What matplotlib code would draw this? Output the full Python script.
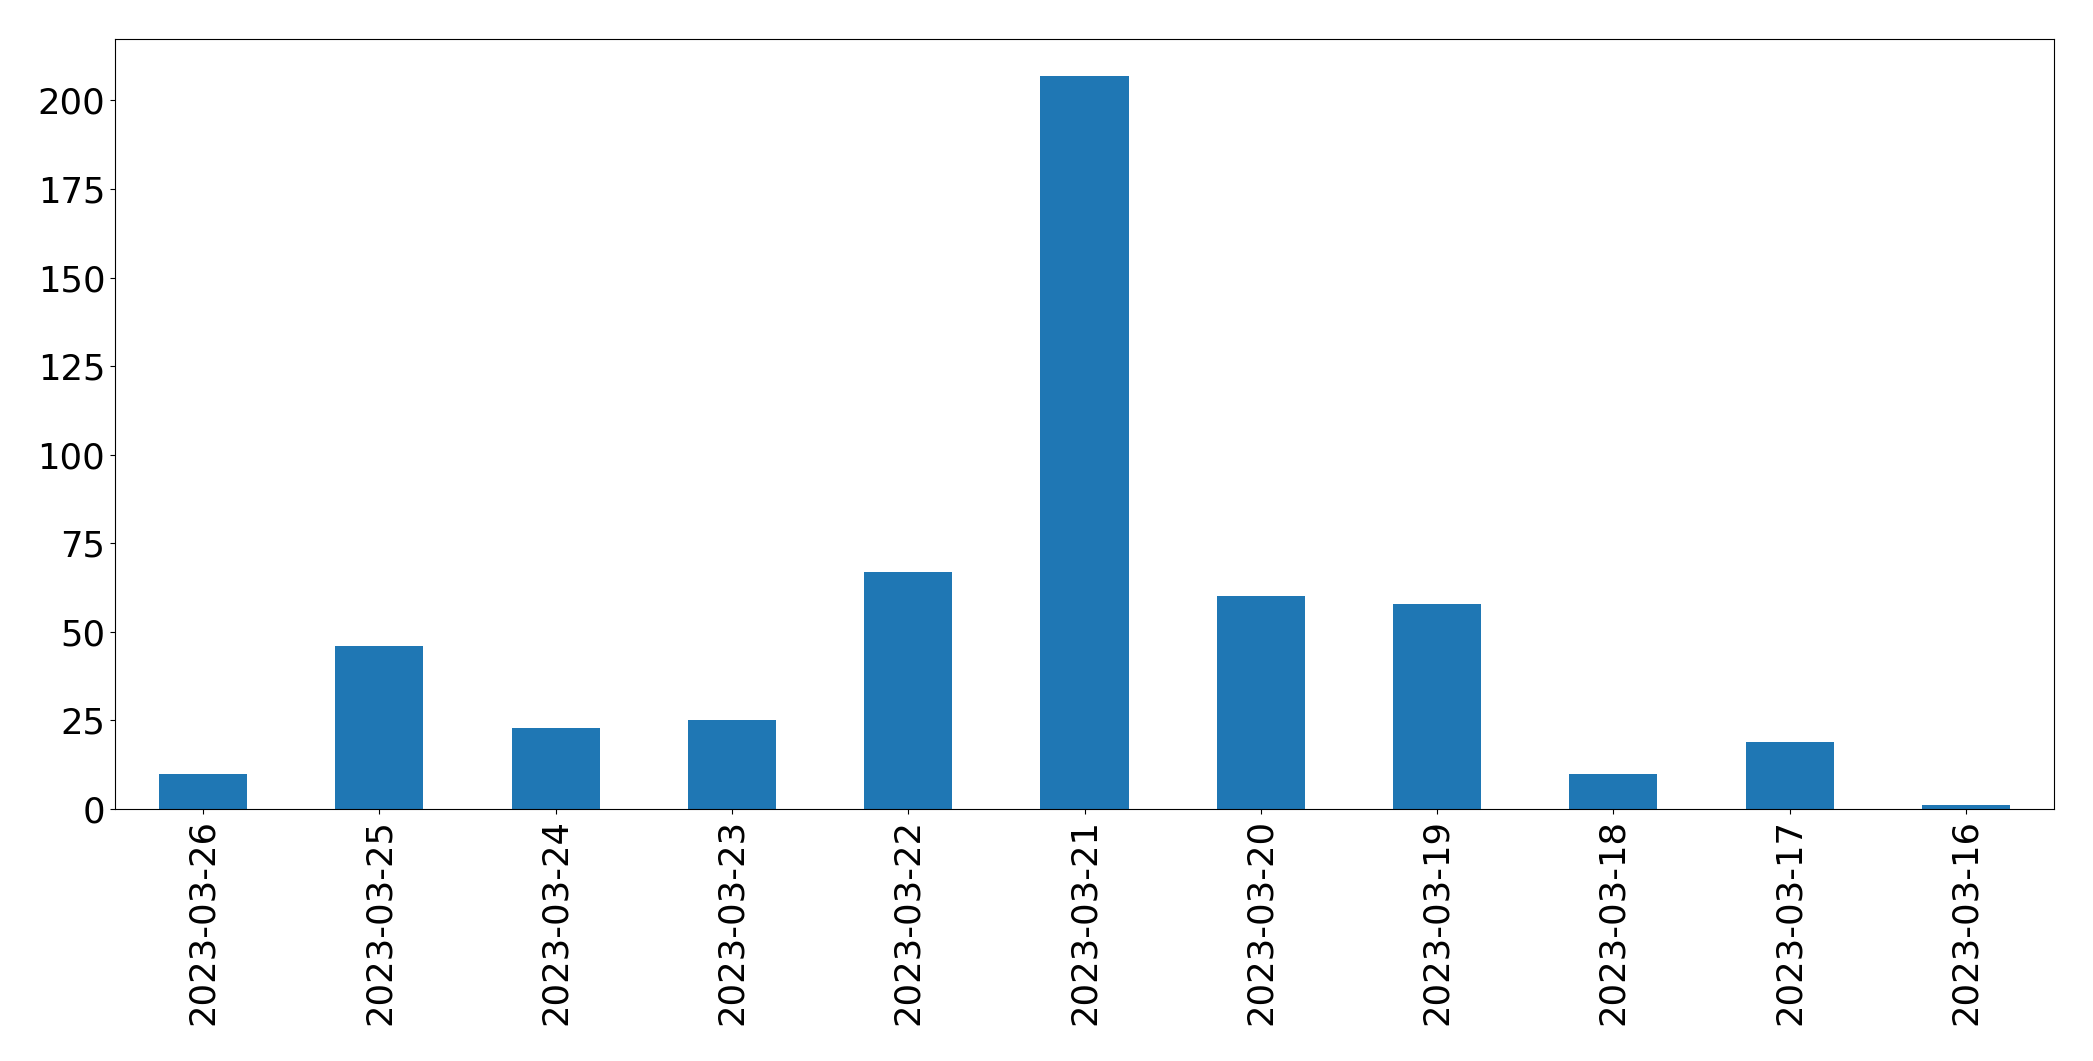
import matplotlib
matplotlib.use("Agg")
import matplotlib.pyplot as plt
import pandas as pd

# dates in the order they appear on the x axis (newest first)
dates = ['2023-03-26', '2023-03-25', '2023-03-24', '2023-03-23', '2023-03-22',
         '2023-03-21', '2023-03-20', '2023-03-19', '2023-03-18', '2023-03-17',
         '2023-03-16']
counts = [10, 46, 23, 25, 67, 207, 60, 58, 10, 19, 1]

series = pd.Series(counts, index=dates)

fig, ax = plt.subplots(figsize=(20.93, 10.61), dpi=100)
series.plot(kind='bar', ax=ax, color='#1f77b4', fontsize=25.5)
ax.tick_params(axis='both', length=3.5)

fig.subplots_adjust(left=115/2093, right=2054/2093, top=1 - 39/1061, bottom=1 - 809/1061)
fig.savefig('out.png', dpi=100)
